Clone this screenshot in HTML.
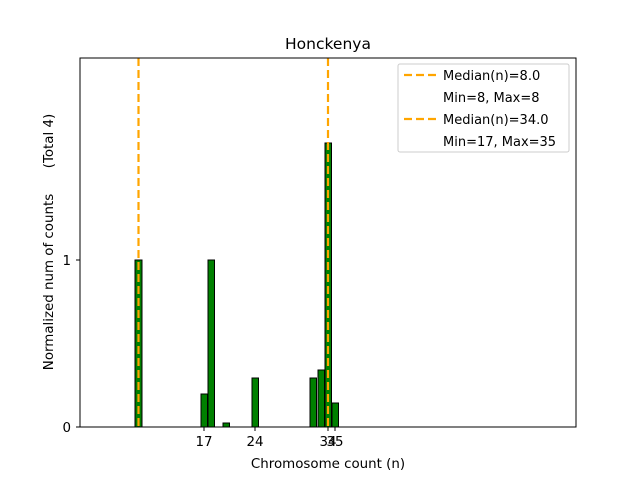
<!DOCTYPE html>
<html><head><style>body{margin:0;background:#fff}svg{font-family:"DejaVu Sans","Liberation Sans",sans-serif}</style></head>
<body>
<svg width="640" height="480" viewBox="0 0 640 480" xmlns="http://www.w3.org/2000/svg">
<rect width="640" height="480" fill="#fff"/>
<line x1="80" y1="427" x2="165" y2="427" stroke="#bbb" stroke-width="1"/>
<g fill="#008000" stroke="#000" stroke-width="1">
<rect x="135" y="260" width="7" height="167"/>
<rect x="201" y="394" width="6.5" height="33"/>
<rect x="208" y="260" width="6.5" height="167"/>
<rect x="223" y="423" width="6.5" height="4"/>
<rect x="252" y="378" width="6.5" height="49"/>
<rect x="310" y="378" width="6.5" height="49"/>
<rect x="318" y="370" width="6.5" height="57"/>
<rect x="325" y="143" width="6.5" height="284"/>
<rect x="332" y="403" width="6.5" height="24"/>
</g>
<g stroke="#FFA500" stroke-width="2.2" stroke-dasharray="8,4">
<line x1="138.5" y1="58" x2="138.5" y2="427"/>
<line x1="328" y1="58" x2="328" y2="427"/>
</g>
<rect x="80" y="58" width="496" height="369" fill="none" stroke="#000" stroke-width="1"/>
<g stroke="#000">
<line x1="76" y1="427" x2="80" y2="427"/><line x1="76" y1="260" x2="80" y2="260"/>
<line x1="204" y1="427" x2="204" y2="431"/><line x1="255" y1="427" x2="255" y2="431"/>
<line x1="328" y1="427" x2="328" y2="431"/><line x1="335" y1="427" x2="335" y2="431"/>
</g>
<g font-size="13.4" fill="#000">
<text x="71" y="432" text-anchor="end">0</text>
<text x="71" y="265" text-anchor="end">1</text>
<text x="204" y="446" text-anchor="middle">17</text>
<text x="255" y="446" text-anchor="middle">24</text>
<text x="328" y="446" text-anchor="middle">34</text>
<text x="335" y="446" text-anchor="middle">35</text>
<text x="328" y="468" text-anchor="middle">Chromosome count (n)</text>
<text transform="translate(53,242) rotate(-90)" text-anchor="middle" xml:space="preserve">Normalized num of counts      (Total 4)</text>
<text x="328" y="49" text-anchor="middle" font-size="15.5">Honckenya</text>
</g>
<rect x="398" y="64" width="171" height="88" fill="#fff" fill-opacity="0.8" stroke="#ccc" rx="2"/>
<g stroke="#FFA500" stroke-width="2.2" stroke-dasharray="8,4">
<line x1="404" y1="75" x2="436" y2="75"/>
<line x1="404" y1="119" x2="436" y2="119"/>
</g>
<g font-size="13" fill="#000">
<text x="443" y="80">Median(n)=8.0</text>
<text x="443" y="102">Min=8, Max=8</text>
<text x="443" y="124">Median(n)=34.0</text>
<text x="443" y="146">Min=17, Max=35</text>
</g>
</svg>
</body></html>
